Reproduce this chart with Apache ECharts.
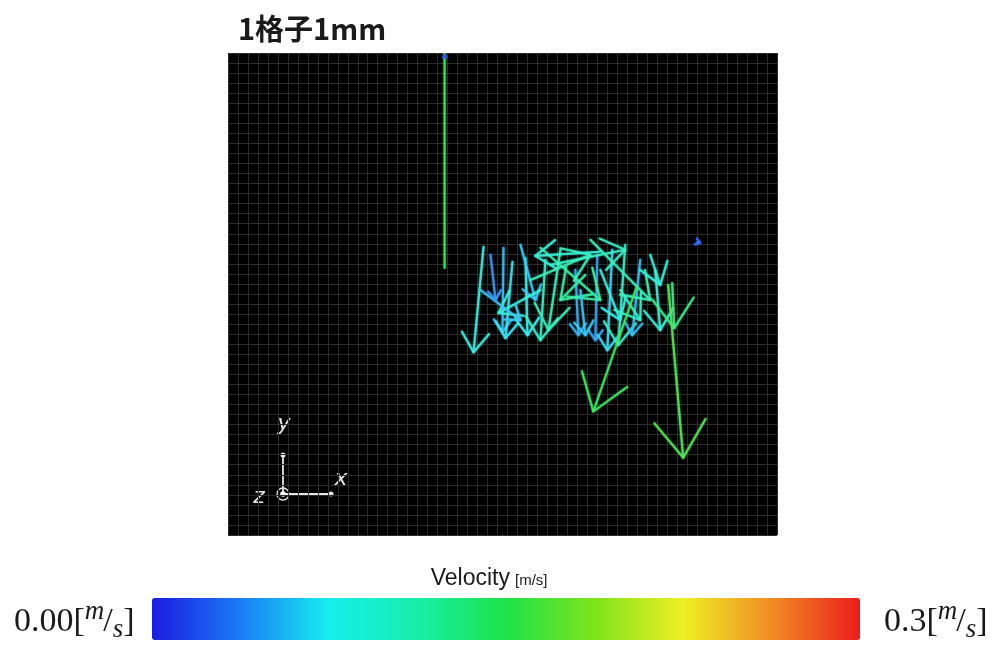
<!DOCTYPE html>
<html>
<head>
<meta charset="utf-8">
<script src="https://cdn.jsdelivr.net/npm/echarts@6/dist/echarts.min.js"></script>
<style>
  html, body { margin: 0; padding: 0; background: #ffffff; }
  #chart { width: 997px; height: 645px; }
</style>
</head>
<body>
<div id="chart"></div>
<script>
// Measurement grid: one cell is 1 mm
const gridColumns = 55;
const gridRows = 48;

// Velocity scale of the colour bar (m/s)
const velocityMin = 0;
const velocityMax = 0.3;
const velocityTickLabels = ['0.00', '0.3'];
const colourbarStops = ['#1c1ce0', '#1a7cf6', '#16eeee', '#18eea8', '#1ee24a', '#7ee41c', '#eef024', '#f08c24', '#ec1c1c'];

// Velocity vectors: tail (x, y), head (x, y) in mm, speed in m/s
const tailX = [25.6, 27.6, 28.5, 29.8, 29.3, 31.8, 33.3, 34.8, 37.0, 38.5, 39.8, 41.3, 42.8, 44.5, 31.3, 30.3, 32.3, 36.3, 42.3, 47.0, 31.3, 25.3, 35.8, 37.3, 26.3, 35.3, 39.3, 37.3, 40.9, 44.1, 21.7, 21.7];
const tailY = [28.7, 28.6, 27.2, 27.6, 28.9, 27.4, 28.4, 26.4, 27.9, 28.4, 28.9, 27.4, 26.4, 25.1, 28.6, 25.4, 26.9, 29.4, 27.9, 29.2, 24.4, 24.4, 25.9, 26.4, 27.9, 24.4, 24.4, 28.2, 24.6, 24.9, 26.6, 47.6];
const headX = [24.6, 27.5, 27.8, 30.0, 30.8, 31.3, 32.1, 35.1, 36.8, 38.0, 39.1, 40.5, 43.3, 44.7, 37.3, 36.3, 39.8, 42.3, 43.3, 47.3, 27.1, 29.3, 33.3, 39.3, 26.8, 35.8, 41.3, 30.8, 36.6, 45.6, 21.7, 21.7];
const headY = [18.2, 20.2, 19.6, 19.9, 23.4, 19.4, 20.4, 19.9, 19.4, 18.4, 18.9, 19.9, 20.4, 20.6, 23.4, 27.9, 28.4, 23.4, 24.9, 29.1, 22.1, 21.4, 23.4, 21.4, 23.4, 19.9, 21.4, 27.8, 12.3, 7.7, 53.0, 47.8];
const speed = [0.085, 0.055, 0.07, 0.075, 0.06, 0.10, 0.11, 0.05, 0.045, 0.065, 0.10, 0.055, 0.09, 0.13, 0.12, 0.11, 0.10, 0.11, 0.09, 0.02, 0.09, 0.06, 0.12, 0.08, 0.04, 0.06, 0.10, 0.09, 0.15, 0.16, 0.15, 0.01];

const vectors = speed.map((v, i) => [tailX[i], tailY[i], headX[i], headY[i], v]);

const chart = echarts.init(document.getElementById('chart'), null, { renderer: 'canvas' });

// Arrow: straight shaft plus an open V head whose size grows with speed
function renderArrow(params, api) {
  const p0 = api.coord([api.value(0), api.value(1)]);
  const p1 = api.coord([api.value(2), api.value(3)]);
  const v = api.value(4);
  const pxPerMm = api.size([1, 1])[0];
  const dx = p1[0] - p0[0];
  const dy = p1[1] - p0[1];
  const len = Math.hypot(dx, dy) || 1;
  const bx = -dx / len;
  const by = -dy / len;
  const h = 28 * v * pxPerMm;
  const a = 35 * Math.PI / 180;
  const c = Math.cos(a), s = Math.sin(a);
  const left = [p1[0] + h * (bx * c - by * s), p1[1] + h * (bx * s + by * c)];
  const right = [p1[0] + h * (bx * c + by * s), p1[1] + h * (-bx * s + by * c)];
  const colour = echarts.color.lift(api.visual('color'), 0.15);
  const style = { stroke: colour, lineWidth: 2.1, fill: null, lineCap: 'round', lineJoin: 'round', opacity: 0.85, shadowBlur: 2, shadowColor: colour };
  return {
    type: 'group',
    children: [
      { type: 'polyline', shape: { points: [p0, p1] }, style: style },
      { type: 'polyline', shape: { points: [left, p1, right] }, style: style }
    ]
  };
}

// Text width helper for the composed unit labels
const measureCtx = document.createElement('canvas').getContext('2d');
function textWidth(text, font) {
  measureCtx.font = font;
  return measureCtx.measureText(text).width;
}

// "value[m/s]" written as a fraction-like unit
function unitLabel(value, x, y, size) {
  const serif = '"Liberation Serif", "DejaVu Serif", serif';
  const small = Math.round(size * 0.78);
  const parts = [
    { t: value + '[', fs: size, style: 'normal', dy: 0 },
    { t: 'm', fs: small, style: 'italic', dy: -size * 0.3 },
    { t: '/', fs: size, style: 'normal', dy: 0 },
    { t: 's', fs: small, style: 'italic', dy: size * 0.22 },
    { t: ']', fs: size, style: 'normal', dy: 0 }
  ];
  let cx = x;
  const children = [];
  parts.forEach(p => {
    children.push({
      type: 'text',
      x: cx,
      y: y + p.dy,
      style: { text: p.t, fontFamily: serif, fontSize: p.fs, fontStyle: p.style, fill: '#1a1a1a', verticalAlign: 'middle' }
    });
    cx += textWidth(p.t, (p.style === 'italic' ? 'italic ' : '') + p.fs + 'px ' + serif) - (p.t === 'm' ? 1 : 0);
  });
  return { type: 'group', children: children };
}

const triadColour = '#e6e6e6';
const sansNarrow = '"Liberation Sans Narrow", "Liberation Sans", sans-serif';

chart.setOption({
  animation: false,
  backgroundColor: '#ffffff',
  title: {
    text: '1格子1mm',
    left: 233,
    top: 9,
    textStyle: { fontFamily: '"Noto Sans CJK JP", sans-serif', fontSize: 29, fontWeight: 'bold', color: '#1a1a1a' }
  },
  grid: {
    left: 228, top: 53, width: 549, height: 482,
    show: true, backgroundColor: '#000000', borderWidth: 0
  },
  xAxis: {
    type: 'value', min: 0, max: gridColumns, interval: 1,
    axisLine: { show: false }, axisTick: { show: false }, axisLabel: { show: false },
    splitLine: { show: true, lineStyle: { color: '#2b2b2b', width: 1 } }
  },
  yAxis: {
    type: 'value', min: 0, max: gridRows, interval: 1,
    axisLine: { show: false }, axisTick: { show: false }, axisLabel: { show: false },
    splitLine: { show: true, lineStyle: { color: '#2b2b2b', width: 1 } }
  },
  visualMap: {
    type: 'continuous',
    min: velocityMin, max: velocityMax,
    dimension: 4, seriesIndex: 0,
    orient: 'horizontal',
    left: 152, top: 598,
    itemWidth: 42, itemHeight: 708,
    padding: 0,
    calculable: false, hoverLink: false,
    inRange: { color: colourbarStops }
  },
  series: [{
    type: 'custom',
    coordinateSystem: 'cartesian2d',
    clip: true,
    renderItem: renderArrow,
    encode: { x: [0, 2], y: [1, 3] },
    data: vectors,
    silent: true
  }],
  graphic: [
    { type: 'text', x: 510, y: 579, style: { text: 'Velocity', fontFamily: sansNarrow, fontSize: 23, fill: '#1a1a1a', align: 'right', verticalAlign: 'middle' } },
    { type: 'text', x: 515, y: 581, style: { text: '[m/s]', fontFamily: sansNarrow, fontSize: 15, fill: '#1a1a1a', align: 'left', verticalAlign: 'middle' } },
    unitLabel(velocityTickLabels[0], 14, 622, 34),
    unitLabel(velocityTickLabels[1], 884, 622, 34),
    // orientation glyph: x right, y up, z out of the page
    {
      type: 'group',
      children: [
        { type: 'line', shape: { x1: 283, y1: 494, x2: 283, y2: 455 }, style: { stroke: triadColour, lineWidth: 1.8 } },
        { type: 'circle', shape: { cx: 283, cy: 455, r: 2.5 }, style: { fill: triadColour } },
        { type: 'line', shape: { x1: 283, y1: 494, x2: 331, y2: 494 }, style: { stroke: triadColour, lineWidth: 1.8 } },
        { type: 'circle', shape: { cx: 331, cy: 494, r: 2.5 }, style: { fill: triadColour } },
        { type: 'circle', shape: { cx: 283, cy: 494, r: 6 }, style: { fill: null, stroke: triadColour, lineWidth: 1.3 } },
        { type: 'circle', shape: { cx: 283, cy: 494, r: 2.8 }, style: { fill: '#ffffff' } },
        { type: 'text', x: 284, y: 424, style: { text: 'y', fontFamily: '"DejaVu Sans", sans-serif', fontStyle: 'italic', fontSize: 22, fill: triadColour, align: 'center', verticalAlign: 'middle' } },
        { type: 'text', x: 341, y: 479, style: { text: 'x', fontFamily: '"DejaVu Sans", sans-serif', fontStyle: 'italic', fontSize: 22, fill: triadColour, align: 'center', verticalAlign: 'middle' } },
        { type: 'text', x: 259, y: 497, style: { text: 'z', fontFamily: '"DejaVu Sans", sans-serif', fontStyle: 'italic', fontSize: 22, fill: triadColour, align: 'center', verticalAlign: 'middle' } }
      ]
    }
  ]
});
</script>
</body>
</html>
